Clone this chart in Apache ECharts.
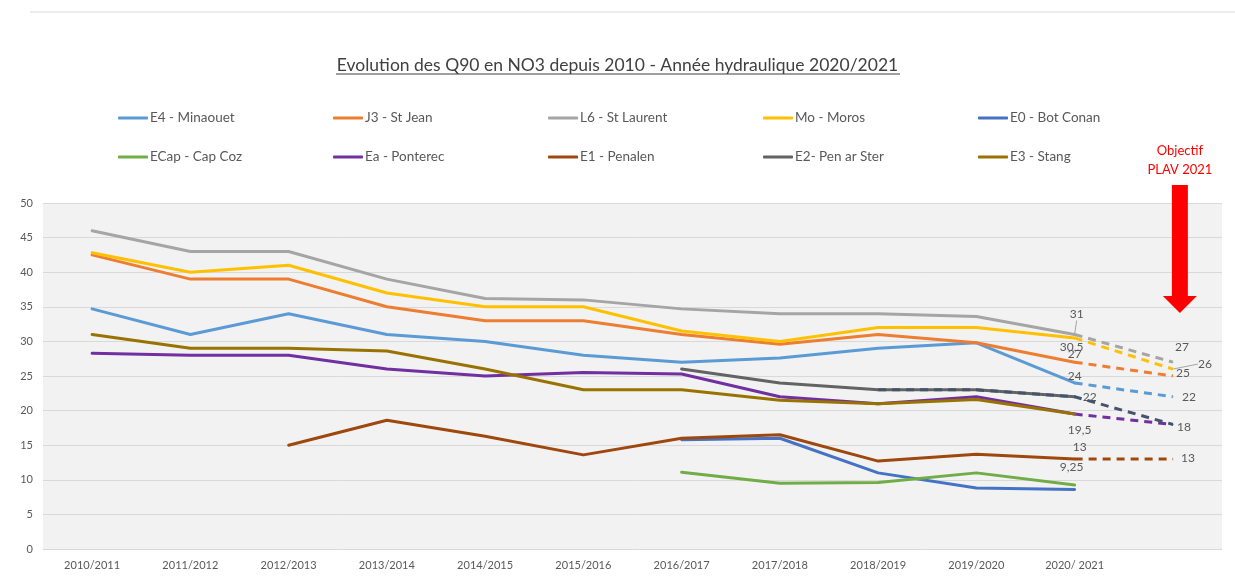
<!DOCTYPE html>
<html>
<head>
<meta charset="utf-8">
<script src="https://cdn.jsdelivr.net/npm/echarts@6/dist/echarts.min.js"></script>
<style>
  html, body { margin: 0; padding: 0; background: #fff; }
  #chart { width: 1235px; height: 577px; }
</style>
</head>
<body>
<div id="chart"></div>
<script>
// catégories (la dernière colonne = objectif PLAV 2021)
const categories = ['2010/2011', '2011/2012', '2012/2013', '2013/2014', '2014/2015', '2015/2016',
  '2016/2017', '2017/2018', '2018/2019', '2019/2020', '2020/ 2021', '']

const e4Minaouet = [34.7, 31, 34, 31, 30, 28, 27, 27.6, 29, 29.8, 24, null]
const j3StJean = [42.5, 39, 39, 35, 33, 33, 31, 29.6, 31, 29.8, 27, null]
const l6StLaurent = [46, 43, 43, 39, 36.2, 36, 34.7, 34, 34, 33.6, 31, null]
const moMoros = [42.8, 40, 41, 37, 35, 35, 31.5, 30, 32, 32, 30.5, null]
const e0BotConan = [null, null, null, null, null, null, 15.8, 16, 11, 8.8, 8.6, null]
const eCapCapCoz = [null, null, null, null, null, null, 11.1, 9.5, 9.6, 11, 9.25, null]
const eaPonterec = [28.3, 28, 28, 26, 25, 25.5, 25.3, 22, 21, 22, 19.5, null]
const e1Penalen = [null, null, 15, 18.6, 16.3, 13.6, 16, 16.5, 12.7, 13.7, 13, null]
const e2PenArSter = [null, null, null, null, null, null, 26, 24, 23, 23, 22, null]
const e3Stang = [31, 29, 29, 28.6, 26, 23, 23, 21.5, 21, 21.6, 19.5, null]

// objectifs PLAV 2021
const objectifs = { E4: 22, J3: 25, L6: 27, Mo: 26, Ea: 18, E1: 13, E2: 18 }

const yTicks = { min: 0, max: 50, interval: 5 }
// flèche "Objectif" (valeurs de l'axe Y, colonne 11)
const arrowFrom = 52.6
const arrowTo = 34.1

const FONT = 'Lato, "Open Sans", sans-serif'
const labelColor = '#595959'

const colors = {
  E4: '#5B9BD5', J3: '#ED7D31', L6: '#A5A5A5', Mo: '#FFC000', E0: '#4472C4',
  ECap: '#70AD47', Ea: '#7030A0', E1: '#9E480E', E2: '#636363', E3: '#997300'
}

// étiquettes de valeur : [index, texte, décalage, trait de rappel]
const pointLabels = {
  L6: [[10, '31', [2, -20], true]],
  Mo: [[10, '30,5', [-3, 9]]],
  J3: [[10, '27', [0, -8]]],
  E4: [[10, '24', [0, -7]]],
  E2: [[10, '22', [15, 0]]],
  Ea: [[10, '19,5', [5, 16]]],
  E1: [[10, '13', [5, -12]]],
  ECap: [[10, '9,25', [-3, -18]]]
}
const goalLabels = {
  L6: [[9, -15]], Mo: [[32, -5], true], J3: [[10, -3]], E4: [[16, 0]], E2: [[11, 3]], E1: [[15, -1]]
}

const valueLabel = (text) => ({
  show: true, formatter: text, position: 'inside',
  color: labelColor, fontSize: 12, fontFamily: FONT
})

// déplacement des étiquettes (avec trait de rappel si demandé)
const moveLabels = (offsets) => (params) => {
  const o = offsets[params.dataIndex]
  return o ? { dx: o[0], dy: o[1] } : {}
}

const solid = (name, key, arr) => {
  const offsets = {}
  const data = arr.map((v, i) => {
    const l = (pointLabels[key] || []).find(p => p[0] === i)
    if (!l || v == null) return v
    offsets[i] = l[2]
    return { value: v, label: valueLabel(l[1]), labelLine: { show: !!l[3], lineStyle: { color: '#A5A5A5', width: 1 } } }
  })
  return {
    name, type: 'line', data,
    symbol: 'circle', symbolSize: 1, showSymbol: true,
    lineStyle: { width: 3, color: colors[key], cap: 'round', join: 'round' },
    itemStyle: { color: colors[key] },
    label: { show: false },
    labelLine: { show: false, length2: 0 },
    labelLayout: moveLabels(offsets),
    z: 3
  }
}

// prolongement en pointillés vers l'objectif (à partir de l'index "from")
const dashed = (key, arr, color, from = 10, z = 2) => {
  const data = categories.map((c, i) => (i >= from && i <= 10 ? arr[i] : null))
  const g = goalLabels[key]
  const offsets = {}
  if (g) {
    offsets[11] = g[0]
    data[11] = {
      value: objectifs[key], label: valueLabel(String(objectifs[key])),
      labelLine: { show: !!g[1], lineStyle: { color: '#A5A5A5', width: 1 } }
    }
  } else {
    data[11] = objectifs[key]
  }
  return {
    name: key + '-obj', type: 'line', data,
    symbol: 'circle', symbolSize: 1, showSymbol: true,
    lineStyle: { width: 3, color: color || colors[key], type: [8, 6] },
    itemStyle: { color: color || colors[key] },
    label: { show: false },
    labelLine: { show: false, length2: 0 },
    labelLayout: moveLabels(offsets),
    z
  }
}

const series = [
  solid('E4 - Minaouet', 'E4', e4Minaouet),
  solid('J3 - St Jean', 'J3', j3StJean),
  solid('L6 - St Laurent', 'L6', l6StLaurent),
  solid('Mo - Moros', 'Mo', moMoros),
  solid('E0 - Bot Conan', 'E0', e0BotConan),
  solid('ECap - Cap Coz', 'ECap', eCapCapCoz),
  solid('Ea - Ponterec', 'Ea', eaPonterec),
  solid('E1 - Penalen', 'E1', e1Penalen),
  solid('E2- Pen ar Ster', 'E2', e2PenArSter),
  solid('E3 - Stang', 'E3', e3Stang),
  dashed('E4', e4Minaouet),
  dashed('J3', j3StJean),
  dashed('L6', l6StLaurent),
  dashed('Mo', moMoros),
  dashed('Ea', eaPonterec),
  dashed('E1', e1Penalen),
  dashed('E2', e2PenArSter, '#44546A', 8, 4)
]

// légende en 5 colonnes
const legendCols = [
  ['E4 - Minaouet', 'ECap - Cap Coz'],
  ['J3 - St Jean', 'Ea - Ponterec'],
  ['L6 - St Laurent', 'E1 - Penalen'],
  ['Mo - Moros', 'E2- Pen ar Ster'],
  ['E0 - Bot Conan', 'E3 - Stang']
]
const legends = legendCols.map((names, i) => ({
  data: names, orient: 'vertical', left: 113 + i * 215, top: 106,
  itemGap: 25, itemWidth: 30, itemHeight: 3, icon: 'roundRect',
  textStyle: { color: labelColor, fontSize: 13.5, fontFamily: FONT, padding: [0, 0, 0, -3] },
  selectedMode: false
}))

const chart = echarts.init(document.getElementById('chart'))
chart.setOption({
  backgroundColor: '#fff',
  animation: false,
  title: {
    text: 'Evolution des Q90 en NO3 depuis 2010 - Année hydraulique 2020/2021',
    left: 'center', top: 51,
    textStyle: { color: '#404040', fontSize: 17.5, fontWeight: 'normal', fontFamily: FONT }
  },
  legend: legends,
  grid: {
    left: 43, right: 13, top: 203, bottom: 28,
    show: true, backgroundColor: '#F2F2F2', borderWidth: 0
  },
  xAxis: {
    type: 'category', data: categories, boundaryGap: true,
    axisLine: { show: false }, axisTick: { show: false },
    axisLabel: { color: labelColor, fontSize: 11, fontFamily: FONT, margin: 11 }
  },
  yAxis: {
    type: 'value', min: yTicks.min, max: yTicks.max, interval: yTicks.interval,
    axisLine: { show: false }, axisTick: { show: false },
    axisLabel: { color: labelColor, fontSize: 11, fontFamily: FONT, margin: 10 },
    splitLine: { lineStyle: { color: '#D9D9D9', width: 1 } }
  },
  series
})

// flèche rouge + texte, positionnés via l'échelle du graphique
const arrowStart = chart.convertToPixel({ gridIndex: 0 }, [11, arrowFrom])
const arrowTip = chart.convertToPixel({ gridIndex: 0 }, [11, arrowTo])
const cx = arrowStart[0] + 7
const headH = 17, headW = 34, shaftW = 16
chart.setOption({
  graphic: [
    { type: 'line', shape: { x1: 30, y1: 12, x2: 1235, y2: 12 }, style: { stroke: '#D9D9D9', lineWidth: 1 } },
    { type: 'line', shape: { x1: 336, y1: 74, x2: 900, y2: 74 }, style: { stroke: '#404040', lineWidth: 1 } },
    {
      type: 'rect',
      shape: { x: cx - shaftW / 2, y: arrowStart[1], width: shaftW, height: arrowTip[1] - headH - arrowStart[1] + 1 },
      style: { fill: '#FF0000' }
    },
    {
      type: 'polygon',
      shape: { points: [[cx - headW / 2, arrowTip[1] - headH], [cx + headW / 2, arrowTip[1] - headH], [cx, arrowTip[1]]] },
      style: { fill: '#FF0000' }
    },
    {
      type: 'text', x: cx, y: arrowStart[1] - 6,
      style: {
        text: 'Objectif\nPLAV 2021', fill: '#FF0000', font: '13px ' + FONT,
        align: 'center', verticalAlign: 'bottom', lineHeight: 19
      }
    }
  ]
})
</script>
</body>
</html>
